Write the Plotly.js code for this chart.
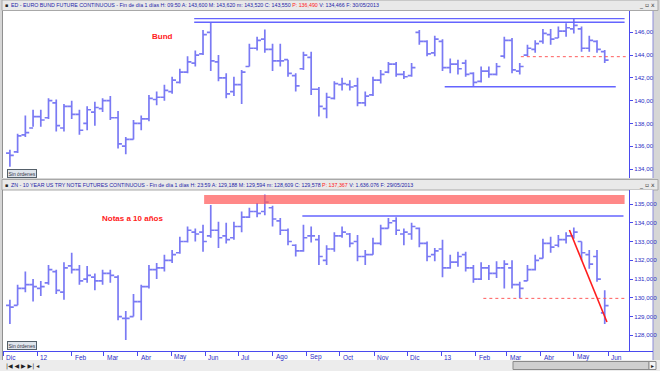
<!DOCTYPE html>
<html><head><meta charset="utf-8">
<script src="https://cdn.plot.ly/plotly-3.0.1.min.js"></script>
<style>html,body{margin:0;padding:0;background:#d6d6d6}#c{width:660px;height:371px}</style>
</head><body><div id="c"></div>
<script>
const weeks = ['2011-12-07','2011-12-14','2011-12-21','2011-12-28','2012-01-04','2012-01-11','2012-01-18','2012-01-25','2012-02-01','2012-02-08','2012-02-15','2012-02-22','2012-02-29','2012-03-07','2012-03-14','2012-03-21','2012-03-28','2012-04-04','2012-04-11','2012-04-18','2012-04-25','2012-05-02','2012-05-09','2012-05-16','2012-05-23','2012-05-30','2012-06-06','2012-06-13','2012-06-20','2012-06-27','2012-07-04','2012-07-11','2012-07-18','2012-07-25','2012-08-01','2012-08-08','2012-08-15','2012-08-22','2012-08-29','2012-09-05','2012-09-12','2012-09-19','2012-09-26','2012-10-03','2012-10-10','2012-10-17','2012-10-24','2012-10-31','2012-11-07','2012-11-14','2012-11-21','2012-11-28','2012-12-05','2012-12-12','2012-12-19','2012-12-26','2013-01-02','2013-01-09','2013-01-16','2013-01-23','2013-01-30','2013-02-06','2013-02-13','2013-02-20','2013-02-27','2013-03-06','2013-03-13','2013-03-20','2013-03-27','2013-04-03','2013-04-10','2013-04-17','2013-04-24','2013-05-01','2013-05-08','2013-05-15','2013-05-22','2013-05-29'];

// Euro Bund (weekly O/H/L/C)
const bundOpen = [135.4,135.5,137.0,137.6,138.6,138.5,139.8,137.6,139.5,138.8,
 138.0,139.0,139.3,140.0,138.5,136.0,136.6,138.0,138.4,140.1,
 140.3,140.8,141.6,142.5,143.3,144.1,146.0,143.4,142.0,140.8,
 141.4,143.0,144.6,145.4,144.5,143.5,143.6,142.2,142.8,143.8,
 141.0,139.3,140.2,141.4,141.4,141.3,139.8,140.5,141.8,142.5,
 143.2,142.3,142.2,146.0,145.2,144.2,145.2,142.9,143.2,143.3,
 142.4,141.7,142.6,142.3,143.9,145.3,142.6,144.0,144.5,145.2,
 145.8,145.5,146.1,146.3,146.3,144.6,145.2,144.3];
const bundHigh = [135.7,137.1,138.7,139.2,139.2,140.2,140.1,139.7,140.0,139.2,
 139.5,139.9,140.2,140.4,139.1,136.8,138.3,138.7,140.5,140.8,
 141.4,142.1,142.8,143.9,144.4,146.2,146.85,144.0,142.4,142.1,
 142.7,145.0,145.6,146.25,145.0,145.0,143.6,142.4,144.3,144.3,
 141.2,140.7,141.7,142.0,141.8,142.0,140.8,142.1,142.7,143.4,
 143.4,142.6,143.3,146.2,145.3,145.7,145.4,143.7,143.6,143.6,
 142.5,143.0,143.0,143.3,145.6,145.5,143.3,144.9,145.3,146.3,
 146.3,146.5,146.8,147.2,146.5,145.7,145.3,144.45];
const bundLow = [134.2,135.4,136.8,137.7,137.7,138.4,137.3,137.3,138.4,137.0,
 137.4,137.8,139.0,138.3,135.8,135.3,136.6,137.4,138.2,139.6,
 140.0,140.6,141.5,142.4,143.0,144.0,142.6,141.7,140.2,140.4,
 139.7,143.0,144.4,144.2,142.6,143.0,142.1,140.8,142.7,140.5,
 138.6,138.45,140.1,140.9,140.9,139.5,139.5,140.4,141.5,142.4,
 142.1,141.9,142.1,144.9,143.9,143.9,142.6,142.4,142.3,142.1,
 141.2,141.6,142.0,142.2,143.7,142.4,142.3,143.9,144.2,145.0,
 144.9,145.5,145.6,145.9,144.3,144.3,144.2,143.3];
const bundClose = [135.2,136.9,137.2,138.6,138.3,140.0,137.8,139.5,138.8,137.4,
 139.2,139.4,140.0,138.5,136.2,136.6,138.0,138.4,140.2,140.3,
 140.9,141.8,142.5,143.4,144.0,145.8,143.5,142.0,140.6,141.4,
 142.5,144.6,145.3,144.5,143.5,143.5,142.4,141.3,144.0,141.0,
 139.5,140.3,141.5,141.5,141.2,139.8,140.4,141.8,142.3,143.2,
 142.3,142.1,142.9,145.2,144.1,145.4,142.9,143.2,142.8,142.3,
 141.6,142.6,142.3,143.0,145.3,142.7,143.0,144.6,145.0,145.9,
 145.4,146.1,146.4,146.6,144.6,145.3,144.5,143.55];

// 10-year US T-Note (weekly O/H/L/C)
const noteOpen = [129.6,129.6,130.5,130.7,130.5,130.8,131.4,130.3,131.7,131.5,
 131.0,131.1,130.9,131.3,131.1,128.9,129.0,129.8,130.6,131.5,
 131.6,132.0,132.4,133.0,133.5,133.5,133.3,133.6,133.3,133.2,
 133.8,134.3,134.6,134.6,134.8,134.1,133.6,132.8,132.5,133.3,
 133.1,132.0,132.6,133.3,133.4,133.0,132.2,132.3,132.9,133.7,
 134.1,133.4,133.4,133.7,132.9,132.3,132.6,131.6,131.9,132.3,
 131.6,131.0,131.6,131.3,131.6,131.6,130.7,130.9,131.5,132.1,
 132.9,132.8,133.1,133.3,133.0,132.3,132.2,129.2];
const noteHigh = [129.9,130.7,131.4,131.0,130.9,131.75,131.5,131.9,132.4,131.75,
 131.7,131.3,131.5,131.5,131.2,129.3,130.2,130.7,131.75,131.85,
 132.3,132.55,133.25,133.8,133.7,133.9,134.95,134.05,134.0,134.05,
 134.6,134.8,135.05,135.5,134.9,134.25,133.7,132.85,133.9,133.8,
 133.35,132.8,133.5,133.8,133.45,133.35,132.55,133.2,133.9,134.25,
 134.3,133.7,134.0,133.75,133.0,132.65,133.1,132.3,132.45,132.45,
 131.75,131.9,131.75,131.95,132.0,132.0,130.85,131.75,132.3,133.15,
 133.25,133.35,133.5,133.75,133.0,132.55,132.55,130.4];
const noteLow = [128.6,129.6,130.3,129.8,130.1,130.7,130.2,129.9,131.3,130.7,
 130.8,130.4,130.7,130.8,128.8,127.75,129.0,128.8,130.5,131.0,
 131.4,131.85,132.35,132.95,133.0,132.45,133.2,132.65,132.9,133.1,
 133.5,134.25,134.3,134.4,133.8,133.35,132.8,132.2,132.45,132.95,
 131.75,131.75,132.45,133.2,132.7,131.95,131.75,132.3,132.8,133.7,
 133.35,132.8,133.1,132.7,131.95,131.95,131.1,131.55,131.65,131.4,
 130.8,130.95,130.95,131.05,130.5,130.5,129.97,130.9,131.45,132.1,
 132.4,132.7,132.9,133.15,132.0,131.55,130.85,128.6];
const noteClose = [129.5,130.5,130.7,130.6,130.6,131.5,130.4,131.6,131.5,130.9,
 131.2,130.9,131.3,131.2,129.0,128.9,129.8,130.6,131.5,131.6,
 132.0,132.3,133.0,133.6,133.4,133.0,133.6,133.2,133.1,133.8,
 134.3,134.6,134.5,135.1,134.2,133.6,133.0,132.5,133.2,133.3,
 132.2,132.6,133.3,133.5,132.9,132.2,132.3,132.9,133.7,134.0,
 133.6,133.5,133.8,132.9,132.2,132.5,131.6,131.9,132.2,131.6,
 131.0,131.6,131.3,131.6,131.8,130.7,130.5,131.5,132.0,132.9,
 132.7,133.1,133.3,133.5,132.4,131.8,131.0,129.58];

const monthTicks = ['2011-12-01','2012-01-01','2012-02-01','2012-03-01','2012-04-01','2012-05-01','2012-06-01','2012-07-01','2012-08-01','2012-09-01','2012-10-01','2012-11-01','2012-12-01','2013-01-01','2013-02-01','2013-03-01','2013-04-01','2013-05-01','2013-06-01'];
const monthLabels = ['Dic','12','Feb','Mar','Abr','May','Jun','Jul','Ago','Sep','Oct','Nov','Dic','13','Feb','Mar','Abr','May','Jun'];
const bundTicks = [134,136,138,140,142,144,146];
const bundTickText = ['134,00','136,00','138,00','140,00','142,00','144,00','146,00'];
const noteTicks = [128,129,130,131,132,133,134,135];
const noteTickText = ['128,000','129,000','130,000','131,000','132,000','133,000','134,000','135,000'];

const W = 660, H = 371;
const px = v => v / W, py = v => 1 - v / H;
const BAR = '#7a7af4', AX = '#4a4aee', TXT = '#2c2cc4';
const FONT = 'Liberation Sans, Arial, sans-serif';

const traces = [
  {type:'ohlc', x:weeks, open:bundOpen, high:bundHigh, low:bundLow, close:bundClose, xaxis:'x', yaxis:'y',
   increasing:{line:{color:BAR, width:1.7}}, decreasing:{line:{color:BAR, width:1.7}}, tickwidth:0.5, hoverinfo:'skip'},
  {type:'ohlc', x:weeks, open:noteOpen, high:noteHigh, low:noteLow, close:noteClose, xaxis:'x2', yaxis:'y2',
   increasing:{line:{color:BAR, width:1.7}}, decreasing:{line:{color:BAR, width:1.7}}, tickwidth:0.5, hoverinfo:'skip'}
];

const xr = ['2011-11-30 18:00','2013-06-20'];
const xdom = [px(3), px(629)];
const yfont = {family:FONT, size:6.2, color:TXT};

const shapes = [
  {type:'rect', xref:'paper', yref:'paper', x0:px(2), x1:px(658), y0:py(10.5), y1:py(0), fillcolor:'#e9e9e9', line:{color:'#a8a8a8', width:1}, layer:'below'},
  {type:'rect', xref:'paper', yref:'paper', x0:px(2), x1:px(658), y0:py(190), y1:py(179.5), fillcolor:'#e9e9e9', line:{color:'#a8a8a8', width:1}, layer:'below'},
  {type:'rect', xref:'paper', yref:'paper', x0:px(629), x1:px(653), y0:py(178), y1:py(11), fillcolor:'#ffffff', line:{width:0}, layer:'below'},
  {type:'rect', xref:'paper', yref:'paper', x0:px(629), x1:px(653), y0:py(351), y1:py(190), fillcolor:'#ffffff', line:{width:0}, layer:'below'},
  {type:'rect', xref:'paper', yref:'paper', x0:px(3), x1:px(653), y0:py(360), y1:py(351), fillcolor:'#ffffff', line:{width:0}, layer:'below'},
  {type:'rect', xref:'paper', yref:'paper', x0:px(0), x1:px(660), y0:py(371), y1:py(360), fillcolor:'#ececec', line:{width:0}, layer:'below'},
  {type:'rect', xref:'paper', yref:'paper', x0:px(513), x1:px(649), y0:py(369.5), y1:py(361.5), fillcolor:'#cfcfcf', line:{color:'#8a8a8a', width:1}, layer:'below'},
  {type:'rect', xref:'paper', yref:'paper', x0:px(649), x1:px(656), y0:py(369.5), y1:py(361.5), fillcolor:'#f4f4f4', line:{color:'#8a8a8a', width:1}, layer:'below'},
  {type:'line', xref:'paper', yref:'paper', x0:px(653), x1:px(653), y0:py(178), y1:py(11), line:{color:'#8c8cd8', width:1}},
  {type:'line', xref:'paper', yref:'paper', x0:px(653), x1:px(653), y0:py(360), y1:py(190), line:{color:'#8c8cd8', width:1}},
  {type:'line', xref:'paper', yref:'paper', x0:px(3), x1:px(653), y0:py(351.5), y1:py(351.5), line:{color:AX, width:1}},
  {type:'line', xref:'paper', yref:'paper', x0:px(2.5), x1:px(2.5), y0:py(178), y1:py(11), line:{color:'#909090', width:1}},
  {type:'line', xref:'paper', yref:'paper', x0:px(2.5), x1:px(2.5), y0:py(360), y1:py(190), line:{color:'#909090', width:1}},
  {type:'line', xref:'x', yref:'y', x0:'2012-05-22', x1:'2013-06-16', y0:147.2, y1:147.2, line:{color:'#6464ff', width:1.4}},
  {type:'line', xref:'x', yref:'y', x0:'2012-05-22', x1:'2013-06-16', y0:146.88, y1:146.88, line:{color:'#6464ff', width:1.4}},
  {type:'line', xref:'x', yref:'y', x0:'2013-03-14', x1:'2013-06-17', y0:143.86, y1:143.86, line:{color:'#ff5c5c', width:1, dash:'dot'}},
  {type:'line', xref:'x', yref:'y', x0:'2013-01-04', x1:'2013-06-08', y0:141.22, y1:141.22, line:{color:'#6464ff', width:1.4}},
  {type:'rect', xref:'x2', yref:'y2', x0:'2012-05-31', x1:'2013-06-16', y0:135.0, y1:135.48, fillcolor:'#ff5a5a', opacity:0.72, line:{width:0}, layer:'above'},
  {type:'line', xref:'x2', yref:'y2', x0:'2012-08-28', x1:'2013-06-15', y0:134.36, y1:134.36, line:{color:'#6464ff', width:1.4}},
  {type:'line', xref:'x2', yref:'y2', x0:'2013-02-08', x1:'2013-06-16', y0:129.97, y1:129.97, line:{color:'#ff5c5c', width:1, dash:'dot'}},
  {type:'line', xref:'x2', yref:'y2', x0:'2013-04-27', x1:'2013-05-31', y0:133.61, y1:128.71, line:{color:'#ff1e1e', width:1.6}}
];

const hdr1 = 'ED - EURO BUND FUTURE CONTINUOUS - Fin de día 1 días H: 09:50 A: 143,600 M: 143,620 m: 143,520 C: 143,550 <span style="color:#ff2020">P: 136,490</span> V: 134,466 F: 30/05/2013';
const hdr2 = 'ZN - 10 YEAR US TRY NOTE FUTURES CONTINUOUS - Fin de día 1 días H: 23:59 A: 129,188 M: 129,594 m: 128,609 C: 129,578 <span style="color:#ff2020">P: 137,367</span> V: 1.636.076 F: 29/05/2013';

const annotations = [
  {xref:'paper', yref:'paper', x:px(9), y:py(5.3), xanchor:'left', yanchor:'middle', text:hdr1, showarrow:false, font:{family:FONT, size:5.3, color:'#2424a8'}},
  {xref:'paper', yref:'paper', x:px(9), y:py(184.8), xanchor:'left', yanchor:'middle', text:hdr2, showarrow:false, font:{family:FONT, size:5.3, color:'#2424a8'}},
  {xref:'paper', yref:'paper', x:px(3), y:py(5.3), xanchor:'left', yanchor:'middle', text:'▪', showarrow:false, font:{family:'DejaVu Sans', size:5, color:'#222'}},
  {xref:'paper', yref:'paper', x:px(3), y:py(184.8), xanchor:'left', yanchor:'middle', text:'▪', showarrow:false, font:{family:'DejaVu Sans', size:5, color:'#222'}},
  {xref:'paper', yref:'paper', x:px(647), y:py(5.3), xanchor:'center', yanchor:'middle', text:'_ ▫ x', showarrow:false, font:{family:'DejaVu Sans', size:6, color:'#333'}},
  {xref:'paper', yref:'paper', x:px(647), y:py(184.8), xanchor:'center', yanchor:'middle', text:'_ ▫ x', showarrow:false, font:{family:'DejaVu Sans', size:6, color:'#333'}},
  {xref:'paper', yref:'paper', x:px(162), y:py(37), xanchor:'center', yanchor:'middle', text:'<b>Bund</b>', showarrow:false, font:{family:FONT, size:8, color:'#ff2020'}},
  {xref:'paper', yref:'paper', x:px(132), y:py(218), xanchor:'center', yanchor:'middle', text:'<b>Notas a 10 años</b>', showarrow:false, font:{family:FONT, size:8, color:'#ff2020'}},
  {xref:'paper', yref:'paper', x:px(22), y:py(173.5), xanchor:'center', yanchor:'middle', text:'Sin órdenes', showarrow:false, font:{family:FONT, size:5, color:'#334'}, bgcolor:'#dfe5ec', bordercolor:'#55606a', borderwidth:1, borderpad:0.5},
  {xref:'paper', yref:'paper', x:px(22), y:py(345.5), xanchor:'center', yanchor:'middle', text:'Sin órdenes', showarrow:false, font:{family:FONT, size:5, color:'#334'}, bgcolor:'#dfe5ec', bordercolor:'#55606a', borderwidth:1, borderpad:0.5},
  {xref:'paper', yref:'paper', x:px(4), y:py(365.5), xanchor:'left', yanchor:'middle', text:'|◀ ◀ ▶ ▶| ◂', showarrow:false, font:{family:'DejaVu Sans', size:6, color:'#222'}},
  {xref:'paper', yref:'paper', x:px(652.5), y:py(365.5), xanchor:'center', yanchor:'middle', text:'▸', showarrow:false, font:{family:'DejaVu Sans', size:6, color:'#222'}}
];
monthTicks.forEach((d, i) => {
  annotations.push({xref:'x2', yref:'paper', x:d, y:py(357), xanchor:'left', yanchor:'middle', xshift:1,
    text:monthLabels[i], showarrow:false, font:{family:FONT, size:6.5, color:TXT}});
});

const layout = {
  width:W, height:H, margin:{l:0, r:0, t:0, b:0},
  paper_bgcolor:'#d6d6d6', plot_bgcolor:'#ffffff', showlegend:false,
  xaxis:{domain:xdom, range:xr, type:'date', anchor:'y', showticklabels:false, ticks:'', showgrid:false, zeroline:false, showline:false, rangeslider:{visible:false}, fixedrange:true},
  yaxis:{domain:[py(178), py(11)], range:[133.21, 147.87], side:'right', anchor:'x', tickvals:bundTicks, ticktext:bundTickText,
    tickfont:yfont, ticks:'outside', ticklen:3, tickcolor:AX, showline:true, linecolor:AX, linewidth:1, showgrid:false, zeroline:false},
  xaxis2:{domain:xdom, range:xr, type:'date', anchor:'y2', tickvals:monthTicks, showticklabels:false, ticks:'outside', ticklen:4, tickcolor:AX,
    showgrid:false, zeroline:false, showline:false, rangeslider:{visible:false}},
  yaxis2:{domain:[py(351), py(190)], range:[127.164, 135.746], side:'right', anchor:'x2', tickvals:noteTicks, ticktext:noteTickText,
    tickfont:yfont, ticks:'outside', ticklen:3, tickcolor:AX, showline:true, linecolor:AX, linewidth:1, showgrid:false, zeroline:false},
  shapes:shapes, annotations:annotations
};

Plotly.newPlot('c', traces, layout, {displayModeBar:false, staticPlot:true});
</script></body></html>
